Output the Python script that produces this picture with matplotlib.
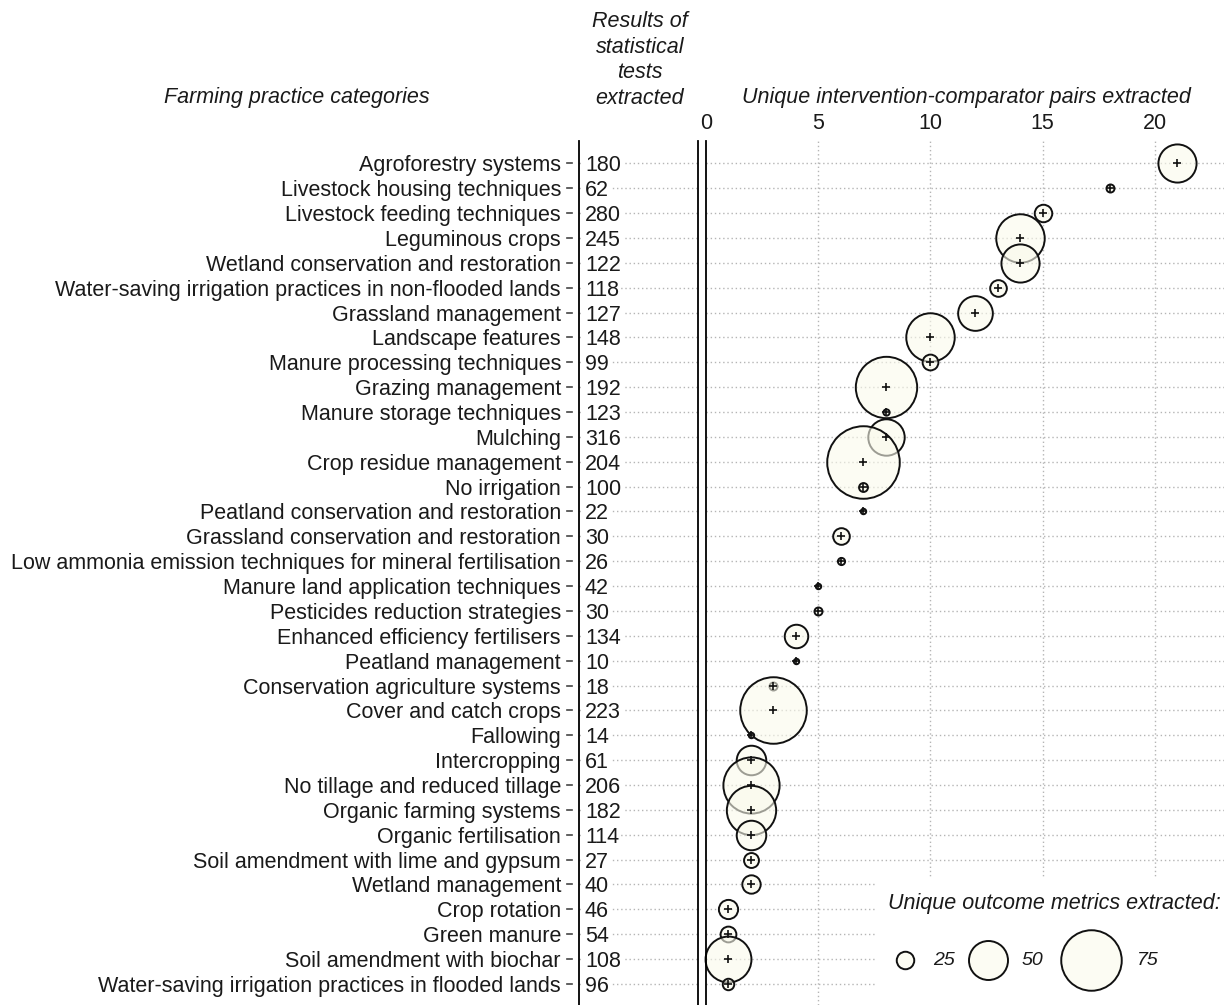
import matplotlib
matplotlib.use("Agg")
import matplotlib.pyplot as plt
import matplotlib.transforms as mtransforms
import numpy as np

plt.rcParams['font.family'] = ['Liberation Sans', 'DejaVu Sans']

# data, top row first
categories = [
    "Agroforestry systems", "Livestock housing techniques", "Livestock feeding techniques",
    "Leguminous crops", "Wetland conservation and restoration",
    "Water-saving irrigation practices in non-flooded lands", "Grassland management",
    "Landscape features", "Manure processing techniques", "Grazing management",
    "Manure storage techniques", "Mulching", "Crop residue management", "No irrigation",
    "Peatland conservation and restoration", "Grassland conservation and restoration",
    "Low ammonia emission techniques for mineral fertilisation",
    "Manure land application techniques", "Pesticides reduction strategies",
    "Enhanced efficiency fertilisers", "Peatland management",
    "Conservation agriculture systems", "Cover and catch crops", "Fallowing",
    "Intercropping", "No tillage and reduced tillage", "Organic farming systems",
    "Organic fertilisation", "Soil amendment with lime and gypsum", "Wetland management",
    "Crop rotation", "Green manure", "Soil amendment with biochar",
    "Water-saving irrigation practices in flooded lands",
]
tests = [180, 62, 280, 245, 122, 118, 127, 148, 99, 192, 123, 316, 204, 100, 22, 30, 26,
         42, 30, 134, 10, 18, 223, 14, 61, 206, 182, 114, 27, 40, 46, 54, 108, 96]
pairs = [21, 18, 15, 14, 14, 13, 12, 10, 10, 8, 8, 8, 7, 7, 7, 6, 6, 5, 5, 4, 4, 3, 3,
         2, 2, 2, 2, 2, 2, 2, 1, 1, 1, 1]
metrics = [49, 14, 25, 61, 49, 24, 45, 61, 23, 76, 12, 47, 89, 15, 11, 24, 13, 11, 14, 32,
           11, 14, 82, 11, 39, 70, 62, 39, 22, 26, 27, 23, 58, 18]
legend_vals = [25, 50, 75]

W, H = 1224, 1005
FS = 15.5
TXT = '#1a1a1a'
FILL = (0.98, 0.98, 0.92, 0.6)
GRID = dict(color='#b5b5b5', linestyle=(0, (1, 2)), linewidth=1.0)


def fx(px):
    return px / W


def fy(py):
    return 1 - py / H


def msize(v):
    # radius in pixels grows linearly with the metric count
    r_px = np.maximum(0.43 * np.asarray(v, float) - 2.0, 2.0)
    return (2 * r_px * 72 / 100) ** 2


n = len(categories)
ypos = np.arange(n, 0, -1)
ylim = (1 - 0.85, n + 0.9)

fig = plt.figure(figsize=(W / 100, H / 100), dpi=100)

# middle panel: number of statistical tests
axm = fig.add_axes([fx(579), 0, fx(698) - fx(579), 864 / H])
axm.set_xlim(0, 1)
axm.set_ylim(*ylim)
for y in ypos:
    axm.axhline(y, zorder=0, **GRID)
for y, t in zip(ypos, tests):
    axm.text(0.05, y, str(t), ha='left', va='center_baseline', fontsize=FS, color=TXT,
             bbox=dict(facecolor='white', edgecolor='none', pad=1.5))
axm.set_xticks([])
axm.set_yticks(ypos)
axm.set_yticklabels(categories, fontsize=FS, color=TXT, va='center_baseline')
axm.tick_params(axis='y', length=0, pad=13)
tr = mtransforms.blended_transform_factory(axm.transAxes, axm.transData)
for y in ypos:
    axm.plot([-0.10, -0.06], [y, y], color='#444444', lw=1.2, transform=tr, clip_on=False)
for s in ['top', 'bottom']:
    axm.spines[s].set_visible(False)
for s in ['left', 'right']:
    axm.spines[s].set_linewidth(1.3)

# main bubble panel
ax = fig.add_axes([fx(706), 0, 1 - fx(706), 864 / H])
ax.set_xlim(0, 518 / 22.45)
ax.set_ylim(*ylim)
for y in ypos:
    ax.axhline(y, zorder=0, **GRID)
for xv in [5, 10, 15, 20]:
    ax.axvline(xv, zorder=0, **GRID)
for x, y, m in zip(pairs, ypos, metrics):
    ax.scatter(x, y, s=msize(m), facecolors=[FILL], edgecolors='#111111',
               linewidths=1.4, zorder=2, clip_on=False)
ax.scatter(pairs, ypos, marker='+', s=30, color='#111111', linewidths=1.2, zorder=3)
ax.xaxis.tick_top()
ax.set_xticks([0, 5, 10, 15, 20])
ax.tick_params(axis='x', length=0, pad=5, labelsize=FS, labelcolor=TXT)
ax.set_yticks([])
for s in ['top', 'bottom', 'right']:
    ax.spines[s].set_visible(False)
ax.spines['left'].set_linewidth(1.3)

# headers
fig.text(fx(297), fy(98), "Farming practice categories", ha='center', va='center',
         fontsize=FS, style='italic', color=TXT)
fig.text(fx(640), fy(60), "Results of\nstatistical\ntests\nextracted", ha='center',
         va='center', fontsize=FS, style='italic', color=TXT, linespacing=1.28)
fig.text(fx(966), fy(98), "Unique intervention-comparator pairs extracted", ha='center',
         va='center', fontsize=FS, style='italic', color=TXT)

# size legend
axl = fig.add_axes([fx(877), 0, 1 - fx(877), (H - 878) / H], zorder=5)
axl.set_xlim(877, W)
axl.set_ylim(H, 878)
axl.set_facecolor('white')
axl.axis('off')
axl.add_patch(plt.Rectangle((877, 878), W - 877, H - 878, facecolor='white',
                            edgecolor='none', zorder=0))
axl.text(888, 903, "Unique outcome metrics extracted:", ha='left', va='center',
         fontsize=FS, style='italic', color=TXT)
for cx, lx, v in zip([905, 988, 1091], [933, 1022, 1137], legend_vals):
    axl.scatter(cx, 960, s=msize(v), facecolors=[FILL], edgecolors='#111111',
                linewidths=1.4, zorder=2, clip_on=False)
    axl.text(lx, 960, str(v), ha='left', va='center', fontsize=14, style='italic',
             color=TXT)

fig.savefig("out.png", dpi=100)
